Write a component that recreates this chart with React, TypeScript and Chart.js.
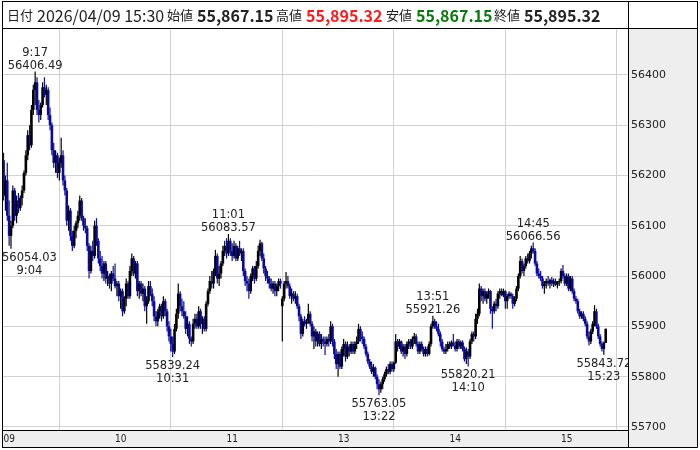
import React, { useEffect, useRef } from "react";
import { Chart, registerables } from "chart.js";
Chart.register(...registerables);

// 1-minute bars, slot 0 = 9:00, lunch break (11:30-12:30) removed
const opens = [
  56230,56160,56190,56120,56080,56100,56170,56120,56150,56135,
  56155,56170,56205,56240,56280,56260,56330,56370,56385,56330,
  56320,56340,56375,56360,56370,56320,56300,56250,56225,56240,
  56205,56225,56240,56190,56170,56110,56130,56080,56060,56090,
  56105,56120,56150,56115,56100,56095,56060,56010,56050,56040,
  56100,56070,56035,56020,56005,56025,55995,56000,55985,56005,
  55995,55980,55985,55960,55970,55930,55955,55985,55960,56010,
  56035,56005,56025,55970,55985,55965,55975,55940,55950,55980,
  55965,55950,55920,55910,55930,55940,55920,55950,55930,55900,
  55880,55865,55850,55895,55925,55965,55940,55930,55920,55895,
  55905,55875,55870,55905,55915,55900,55930,55905,55915,55895,
  55945,55970,55990,55985,56010,56040,55995,56005,56025,56050,
  56060,56045,56070,56050,56040,56060,56035,56055,56045,56050,
  56010,55990,55985,55970,56000,56015,55995,56020,56050,56065,
  56035,56015,56000,55995,55985,55975,55985,55970,55980,55990,
  55940,55955,55985,55990,55980,55960,55965,55955,55960,55940,
  55920,55885,55910,55905,55912,55925,55905,55880,55890,55870,
  55885,55865,55875,55870,55865,55875,55870,55900,55870,55845,
  55825,55845,55820,55855,55865,55840,55860,55850,55865,55850,
  55865,55870,55895,55880,55875,55860,55845,55830,55820,55810,
  55818,55800,55785,55775,55785,55795,55805,55815,55810,55825,
  55815,55828,55870,55860,55870,55850,55860,55845,55865,55870,
  55860,55875,55880,55865,55850,55865,55855,55845,55855,55845,
  55865,55900,55910,55900,55895,55885,55870,55855,55850,55855,
  55865,55860,55868,55862,55855,55870,55860,55868,55855,55835,
  55850,55840,55870,55885,55880,55915,55925,55975,55960,55970,
  55955,55965,55970,55935,55930,55945,55940,55965,55970,55962,
  55970,55950,55960,55965,55960,55945,55955,55975,56000,56030,
  56010,56020,56035,56030,56045,56055,56050,56025,56005,56000,
  55995,55980,55985,55990,55985,55992,55985,55990,55983,55988,
  55990,56010,56000,55985,56000,55975,55995,55970,55955,55950,
  55930,55920,55925,55915,55905,55880,55870,55890,55905,55930,
  55900,55880,55865,55855,55867.15,
];
const highs = [
  56245,56200,56225,56150,56110,56180,56175,56160,56165,56160,
  56180,56210,56250,56290,56300,56340,56380,56406.49,56395,56350,
  56345,56385,56395,56380,56375,56335,56305,56265,56250,56245,
  56235,56275,56250,56200,56175,56140,56135,56090,56100,56110,
  56130,56160,56155,56120,56115,56100,56065,56060,56070,56110,
  56115,56075,56050,56040,56030,56030,56010,56005,56010,56020,
  56025,55990,55990,55975,55975,55960,55995,55990,56020,56045,
  56040,56030,56030,55990,55990,55985,55980,55960,55990,55990,
  55975,55960,55930,55935,55945,55945,55960,55955,55935,55910,
  55895,55880,55905,55935,55985,55970,55955,55950,55930,55920,
  55910,55880,55915,55925,55925,55940,55935,55920,55920,55950,
  55975,56000,56010,56015,56052,56045,56020,56030,56060,56070,
  56075,56083.57,56075,56065,56070,56065,56060,56070,56055,56055,
  56015,56000,55995,56005,56020,56020,56030,56060,56072,56068,
  56045,56020,56010,56000,55995,55990,55990,55985,55995,55995,
  55960,55990,56008,56000,55985,55975,55970,55970,55965,55945,
  55925,55915,55920,55915,55945,55930,55910,55900,55895,55890,
  55890,55885,55880,55880,55880,55885,55910,55905,55875,55855,
  55850,55850,55860,55875,55870,55870,55865,55870,55870,55870,
  55880,55905,55900,55890,55880,55865,55850,55835,55830,55825,
  55820,55805,55795,55790,55800,55810,55820,55825,55830,55830,
  55830,55885,55875,55875,55872,55865,55865,55870,55875,55875,
  55880,55887,55885,55870,55870,55870,55860,55860,55860,55870,
  55905,55921.26,55915,55910,55905,55890,55875,55860,55865,55870,
  55870,55872,55885,55870,55875,55875,55872,55872,55860,55858,
  55855,55875,55890,55890,55925,55935,55985,55980,55975,55975,
  55970,55975,55972,55940,55950,55955,55970,55975,55975,55975,
  55972,55965,55970,55968,55965,55960,55980,56005,56040,56035,
  56025,56040,56045,56050,56060,56066.56,56055,56030,56015,56010,
  56000,55990,55995,56000,55995,55998,55995,55995,55990,55995,
  56015,56022,56005,56005,56005,56000,56000,55975,55960,55955,
  55935,55930,55930,55920,55910,55890,55895,55910,55942,55935,
  55905,55885,55870,55870,55895.32,
];
const lows = [
  56150,56130,56110,56060,56054.03,56095,56110,56105,56125,56130,
  56140,56165,56200,56230,56250,56255,56320,56340,56320,56305,
  56310,56335,56355,56340,56310,56290,56240,56215,56205,56195,
  56190,56215,56180,56160,56100,56090,56070,56050,56055,56075,
  56095,56110,56110,56090,56085,56050,55995,56005,56030,56035,
  56060,56025,56010,55995,55990,55985,55980,55975,55970,55990,
  55975,55960,55950,55935,55920,55925,55940,55955,55955,56000,
  56000,55995,55960,55955,55960,55950,55930,55905,55945,55960,
  55940,55910,55900,55900,55915,55910,55915,55920,55890,55870,
  55850,55839.24,55845,55890,55915,55930,55920,55915,55885,55880,
  55865,55860,55865,55895,55895,55895,55895,55885,55890,55890,
  55940,55965,55975,55975,56000,55985,55980,55995,56020,56040,
  56035,56040,56040,56030,56035,56030,56030,56040,56030,56000,
  55980,55970,55955,55965,55990,55985,55990,56015,56040,56030,
  56005,55990,55985,55975,55970,55965,55960,55960,55970,55975,
  55870,55950,55975,55975,55955,55945,55950,55945,55935,55910,
  55875,55880,55900,55895,55905,55900,55870,55855,55860,55860,
  55860,55855,55860,55843,55860,55860,55865,55860,55835,55815,
  55800,55815,55815,55840,55830,55835,55840,55845,55845,55845,
  55855,55865,55870,55865,55855,55840,55825,55815,55805,55800,
  55795,55775,55763.05,55768,55775,55790,55800,55805,55805,55810,
  55810,55825,55850,55855,55845,55840,55835,55840,55855,55855,
  55855,55865,55860,55845,55845,55850,55840,55840,55840,55842,
  55860,55895,55895,55890,55880,55860,55850,55845,55845,55850,
  55855,55855,55860,55850,55850,55855,55855,55850,55830,55825,
  55820.21,55835,55865,55870,55875,55905,55920,55950,55945,55950,
  55945,55955,55925,55895,55925,55930,55935,55955,55960,55958,
  55935,55935,55955,55955,55935,55940,55950,55970,55995,56005,
  56000,56015,56025,56025,56035,56045,56020,56000,55995,55990,
  55975,55965,55975,55980,55975,55980,55978,55980,55975,55980,
  55985,55995,55980,55980,55970,55970,55965,55950,55945,55925,
  55915,55915,55910,55900,55875,55862,55865,55885,55900,55895,
  55875,55860,55850,55843.72,55867.15,
];
const closes = [
  56160,56190,56120,56080,56100,56170,56120,56150,56135,56155,
  56170,56205,56240,56280,56260,56330,56370,56385,56330,56320,
  56340,56375,56360,56370,56320,56300,56250,56225,56240,56205,
  56225,56240,56190,56170,56110,56130,56080,56060,56090,56105,
  56120,56150,56115,56100,56095,56060,56010,56050,56040,56100,
  56070,56035,56020,56005,56025,55995,56000,55985,56005,55995,
  55980,55985,55960,55970,55930,55955,55985,55960,56010,56035,
  56005,56025,55970,55985,55965,55975,55940,55950,55980,55965,
  55950,55920,55910,55930,55940,55920,55950,55930,55900,55880,
  55865,55850,55895,55925,55965,55940,55930,55920,55895,55905,
  55875,55870,55905,55915,55900,55930,55905,55915,55895,55945,
  55970,55990,55985,56010,56040,55995,56005,56025,56050,56060,
  56045,56070,56050,56040,56060,56035,56055,56045,56050,56010,
  55990,55985,55970,56000,56015,55995,56020,56050,56065,56035,
  56015,56000,55995,55985,55975,55985,55970,55980,55990,55985,
  55955,55985,55990,55980,55960,55965,55955,55960,55940,55920,
  55885,55910,55905,55912,55925,55905,55880,55890,55870,55885,
  55865,55875,55870,55865,55875,55870,55900,55870,55845,55825,
  55845,55820,55855,55865,55840,55860,55850,55865,55850,55865,
  55870,55895,55880,55875,55860,55845,55830,55820,55810,55818,
  55800,55785,55775,55785,55795,55805,55815,55810,55825,55815,
  55828,55870,55860,55870,55850,55860,55845,55865,55870,55860,
  55875,55880,55865,55850,55865,55855,55845,55855,55845,55865,
  55900,55910,55900,55895,55885,55870,55855,55850,55855,55865,
  55860,55868,55862,55855,55870,55860,55868,55855,55835,55850,
  55840,55870,55885,55880,55915,55925,55975,55960,55970,55955,
  55965,55970,55935,55930,55945,55940,55965,55970,55962,55970,
  55950,55960,55965,55960,55945,55955,55975,56000,56030,56010,
  56020,56035,56030,56045,56055,56050,56025,56005,56000,55995,
  55980,55985,55990,55985,55992,55985,55990,55983,55988,55990,
  56010,56000,55985,56000,55975,55995,55970,55955,55950,55930,
  55920,55925,55915,55905,55880,55870,55890,55905,55930,55900,
  55880,55865,55855,55867.15,55895.32,
];

// axis ticks
const yTickValues = [55700, 55800, 55900, 56000, 56100, 56200, 56300, 56400];
const xTickSlots = [0, 60, 120, 180, 240, 300];
const xTickLabels = ["09", "10", "11", "13", "14", "15"];

// high / low markers
const markTimes = ["9:17", "9:04", "10:31", "11:01", "13:22", "13:51", "14:10", "14:45", "15:23"];
const markValues = [56406.49, 56054.03, 55839.24, 56083.57, 55763.05, 55921.26, 55820.21, 56066.56, 55843.72];
const markSides = ["high", "low", "low", "high", "low", "high", "low", "high", "low"];

// header
const headerDate = "2026/04/09 15:30";
const headerOpen = "55,867.15";
const headerHigh = "55,895.32";
const headerLow = "55,867.15";
const headerClose = "55,895.32";

const UP = "#000000";
const DOWN = "#0a0a9e";

function timeToSlot(t: string) {
  const [h, m] = t.split(":").map(Number);
  let s = h * 60 + m - 540;
  if (s >= 210) s -= 60;
  return s;
}

const framePlugin = {
  id: "frame",
  beforeDraw(chart: any) {
    const { ctx, chartArea } = chart;
    const { left, right, top, bottom } = chartArea;
    ctx.save();
    ctx.fillStyle = "#ffffff";
    ctx.fillRect(0, 0, chart.width, chart.height);
    ctx.fillStyle = "#eeeeee";
    ctx.fillRect(right, top - 1, 697 - right, 447 - top + 1);
    ctx.fillRect(left, bottom, right - left, 447 - bottom);
    ctx.restore();
  },
  afterDraw(chart: any) {
    const { ctx, chartArea } = chart;
    const { left, right, top, bottom } = chartArea;
    ctx.save();
    ctx.strokeStyle = "#000";
    ctx.lineWidth = 1;
    ctx.beginPath();
    ctx.moveTo(left - 0.5, 1);
    ctx.lineTo(left - 0.5, 447.5);
    ctx.moveTo(right + 0.5, 1);
    ctx.lineTo(right + 0.5, 447.5);
    ctx.moveTo(left - 1, bottom + 0.5);
    ctx.lineTo(right, bottom + 0.5);
    ctx.moveTo(left - 1, 447.5);
    ctx.lineTo(697.5, 447.5);
    ctx.moveTo(697.5, 1);
    ctx.lineTo(697.5, 447.5);
    ctx.moveTo(left - 1, 1.5);
    ctx.lineTo(698, 1.5);
    ctx.moveTo(left - 1, top - 0.5);
    ctx.lineTo(698, top - 0.5);
    ctx.stroke();
    ctx.restore();
  },
};

const markPlugin = {
  id: "marks",
  afterDatasetsDraw(chart: any) {
    const { ctx, chartArea, scales } = chart;
    ctx.save();
    ctx.beginPath();
    ctx.rect(0, chartArea.top, chartArea.right, chartArea.bottom - chartArea.top);
    ctx.clip();
    ctx.font = "11.5px 'DejaVu Sans', sans-serif";
    ctx.fillStyle = "#222";
    ctx.textAlign = "center";
    ctx.textBaseline = "alphabetic";
    markTimes.forEach((t, i) => {
      const slot = timeToSlot(t);
      const px = scales.x.getPixelForValue(slot);
      const py = scales.y.getPixelForValue(markValues[i]);
      const valText = markValues[i].toFixed(2);
      const w = Math.max(ctx.measureText(valText).width, ctx.measureText(t).width);
      let cx = px;
      if (cx - w / 2 < 2) cx = 2 + w / 2;
      if (markSides[i] === "high") {
        ctx.fillText(valText, cx, py - 3);
        ctx.fillText(t, cx, py - 16);
      } else {
        ctx.fillText(valText, cx, py + 12);
        ctx.fillText(t, cx, py + 25);
      }
    });
    ctx.restore();
  },
};

export default function App() {
  const ref = useRef<HTMLCanvasElement>(null);
  useEffect(() => {
    const colors = closes.map((c, i) => (c >= opens[i] ? UP : DOWN));
    const wick = closes.map((_, i) => ({ x: i, y: [lows[i], highs[i]] }));
    const body = closes.map((c, i) => ({ x: i, y: [opens[i], c] }));
    const chart = new Chart(ref.current as HTMLCanvasElement, {
      type: "bar",
      data: {
        datasets: [
          {
            data: wick as any,
            backgroundColor: colors,
            barThickness: 1.2,
            grouped: false,
            borderWidth: 0,
            inflateAmount: 0,
          } as any,
          {
            data: body as any,
            backgroundColor: colors,
            barThickness: 2.6,
            grouped: false,
            borderWidth: 0,
            inflateAmount: 0,
            minBarLength: 1,
          } as any,
        ],
      },
      options: {
        responsive: false,
        animation: false,
        layout: { padding: { left: 3, top: 29, right: 0, bottom: 0 } },
        plugins: { legend: { display: false }, tooltip: { enabled: false } },
        scales: {
          x: {
            type: "linear",
            min: -0.3,
            max: 336,
            offset: false,
            grid: { color: "#d2d2d2", drawTicks: false },
            border: { display: false },
            afterBuildTicks: (s: any) => {
              s.ticks = xTickSlots.map((v) => ({ value: v }));
            },
            ticks: {
              align: "start",
              padding: 3,
              maxRotation: 0,
              autoSkip: false,
              color: "#222",
              font: { family: "'DejaVu Sans Condensed', 'Liberation Sans Narrow', 'DejaVu Sans'", size: 10 },
              callback: (v: any) => {
                const k = xTickSlots.indexOf(Number(v));
                return k >= 0 ? xTickLabels[k] : "";
              },
            },
            afterFit: (s: any) => {
              s.height = 20;
            },
          },
          y: {
            position: "right",
            min: 55694,
            max: 56491,
            grid: { color: "#d2d2d2", drawTicks: false },
            border: { display: false },
            afterBuildTicks: (s: any) => {
              s.ticks = yTickValues.map((v) => ({ value: v }));
            },
            ticks: {
              padding: 3,
              color: "#222",
              font: { family: "'DejaVu Sans', sans-serif", size: 11 },
              callback: (v: any) => String(v),
            },
            afterFit: (s: any) => {
              s.width = 72;
            },
          },
        },
      } as any,
      plugins: [framePlugin, markPlugin],
    });
    return () => chart.destroy();
  }, []);

  const cjk = "'Noto Sans CJK JP', 'Noto Sans', sans-serif";
  const base: React.CSSProperties = {
    position: "absolute",
    top: 3,
    lineHeight: "24px",
    fontFamily: cjk,
    whiteSpace: "nowrap",
    color: "#222",
  };
  const lbl: React.CSSProperties = { ...base, fontSize: 13 };
  const num: React.CSSProperties = { ...base, fontSize: 16, fontWeight: 700 };

  return (
    <div style={{ position: "fixed", left: 0, top: 0, width: 700, height: 450, background: "#fff" }}>
      <canvas ref={ref} width={700} height={450} style={{ position: "absolute", left: 0, top: 0 }} />
      <span style={{ ...lbl, left: 7 }}>日付</span>
      <span style={{ ...base, fontSize: 16, left: 37 }}>{headerDate}</span>
      <span style={{ ...lbl, left: 167 }}>始値</span>
      <span style={{ ...num, left: 197 }}>{headerOpen}</span>
      <span style={{ ...lbl, left: 276 }}>高値</span>
      <span style={{ ...num, left: 306, color: "#ff1a1a" }}>{headerHigh}</span>
      <span style={{ ...lbl, left: 386 }}>安値</span>
      <span style={{ ...num, left: 416, color: "#0a7a0a" }}>{headerLow}</span>
      <span style={{ ...lbl, left: 494 }}>終値</span>
      <span style={{ ...num, left: 524 }}>{headerClose}</span>
    </div>
  );
}
